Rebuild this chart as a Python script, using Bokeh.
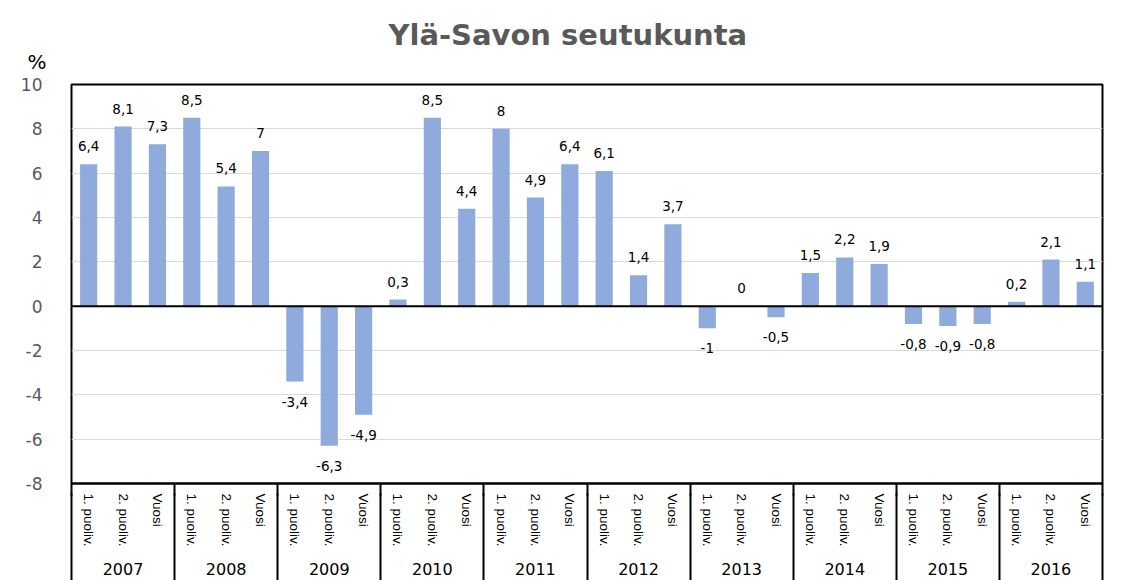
from bokeh.plotting import figure
from bokeh.models import (ColumnDataSource, Span, Title, Range1d, FixedTicker, LinearAxis)
from bokeh.embed import file_html
from bokeh.resources import INLINE
from bokeh.core.properties import value

years = ["2007", "2008", "2009", "2010", "2011", "2012", "2013", "2014", "2015", "2016"]
periods = ["1. puoliv.", "2. puoliv.", "Vuosi"]

v2007 = [6.4, 8.1, 7.3]
v2008 = [8.5, 5.4, 7.0]
v2009 = [-3.4, -6.3, -4.9]
v2010 = [0.3, 8.5, 4.4]
v2011 = [8.0, 4.9, 6.4]
v2012 = [6.1, 1.4, 3.7]
v2013 = [-1.0, 0.0, -0.5]
v2014 = [1.5, 2.2, 1.9]
v2015 = [-0.8, -0.9, -0.8]
v2016 = [0.2, 2.1, 1.1]

y_ticks = [-8, -6, -4, -2, 0, 2, 4, 6, 8, 10]

series = [v2007, v2008, v2009, v2010, v2011, v2012, v2013, v2014, v2015, v2016]
n_per = len(periods)
n_cat = len(years) * n_per

# category slots: one unit per (year, period), in order
slot = [yi * n_per + pi + 0.5 for yi in range(len(years)) for pi in range(n_per)]
slot_labels = [per for _ in years for per in periods]
vals = [v for s in series for v in s]
year_centers = [yi * n_per + n_per / 2 for yi in range(len(years))]
year_bounds = [yi * n_per for yi in range(len(years) + 1)]


def fmt(v):
    return ("%g" % v).replace(".", ",")


pos = dict(x=[], y=[], t=[])
neg = dict(x=[], y=[], t=[])
for xv, v in zip(slot, vals):
    d = pos if v >= 0 else neg
    d["x"].append(xv)
    d["y"].append(v)
    d["t"].append(fmt(v))

p = figure(
    x_range=Range1d(0, n_cat),
    y_range=Range1d(-8, 10),
    width=1126, height=580,
    min_border_left=71, min_border_right=24, min_border_top=84, min_border_bottom=97,
    output_backend="svg", toolbar_location=None,
)
p.background_fill_color = "white"
p.border_fill_color = "white"

p.vbar(x=slot, top=vals, bottom=0, width=0.5, fill_color="#8FAADC", line_color=None)

p.add_layout(Span(location=0, dimension="width", line_color="black", line_width=2))

common = dict(text_align="center", text_baseline="middle",
              text_font=value("DejaVu Sans"), text_font_size="13.5px", text_color="black")
p.text(x="x", y="y", text="t", source=ColumnDataSource(pos), y_offset=-18, **common)
p.text(x="x", y="y", text="t", source=ColumnDataSource(neg), y_offset=20, **common)

# y axis
p.yaxis.ticker = FixedTicker(ticks=y_ticks)
p.yaxis.major_label_overrides = {t: str(t) for t in y_ticks}
p.yaxis.axis_line_color = None
p.yaxis.major_tick_line_color = None
p.yaxis.minor_tick_line_color = None
p.yaxis.major_label_text_color = "#595959"
p.yaxis.major_label_text_font = "DejaVu Sans"
p.yaxis.major_label_text_font_size = "17px"
p.yaxis.major_label_standoff = 23

p.ygrid.grid_line_color = "#d9d9d9"
p.xgrid.grid_line_color = None

p.outline_line_color = "black"
p.outline_line_width = 2
p.outline_line_alpha = 1

# x axis 1: period labels, short minor ticks start the year separators
xa = p.xaxis[0]
xa.ticker = FixedTicker(ticks=slot, minor_ticks=year_bounds)
xa.major_label_overrides = {xv: lab for xv, lab in zip(slot, slot_labels)}
xa.axis_line_color = "black"
xa.axis_line_width = 2
xa.major_tick_line_color = None
xa.major_tick_in = 0
xa.major_tick_out = 0
xa.minor_tick_in = 0
xa.minor_tick_out = 12
xa.minor_tick_line_color = "black"
xa.minor_tick_line_width = 2
xa.major_label_orientation = "vertical"
xa.major_label_text_font = "Liberation Sans"
xa.major_label_text_font_size = "13.5px"
xa.major_label_text_color = "black"
xa.major_label_standoff = -2

# x axis 2: year labels; its minor ticks continue the separators up and down
xa2 = LinearAxis(ticker=FixedTicker(ticks=year_centers, minor_ticks=year_bounds),
                 major_label_overrides={c: y for c, y in zip(year_centers, years)})
xa2.axis_line_color = None
xa2.major_tick_line_color = None
xa2.major_tick_in = 0
xa2.major_tick_out = 0
xa2.minor_tick_in = 56
xa2.minor_tick_out = 33
xa2.minor_tick_line_color = "black"
xa2.minor_tick_line_width = 2
xa2.major_label_standoff = -20
xa2.major_label_text_font = "DejaVu Sans"
xa2.major_label_text_font_size = "16px"
xa2.major_label_text_color = "black"
p.add_layout(xa2, "below")

p.title = Title(text="Ylä-Savon seutukunta", align="left", offset=317, standoff=-30,
                text_font="DejaVu Sans", text_font_style="bold", text_font_size="29px",
                text_color="#595959")
p.add_layout(Title(text="%", align="left", offset=-44, standoff=22,
                   text_font="DejaVu Sans", text_font_style="normal", text_font_size="20px",
                   text_color="black"), "above")

open("out.html", "w").write(file_html(p, INLINE))
